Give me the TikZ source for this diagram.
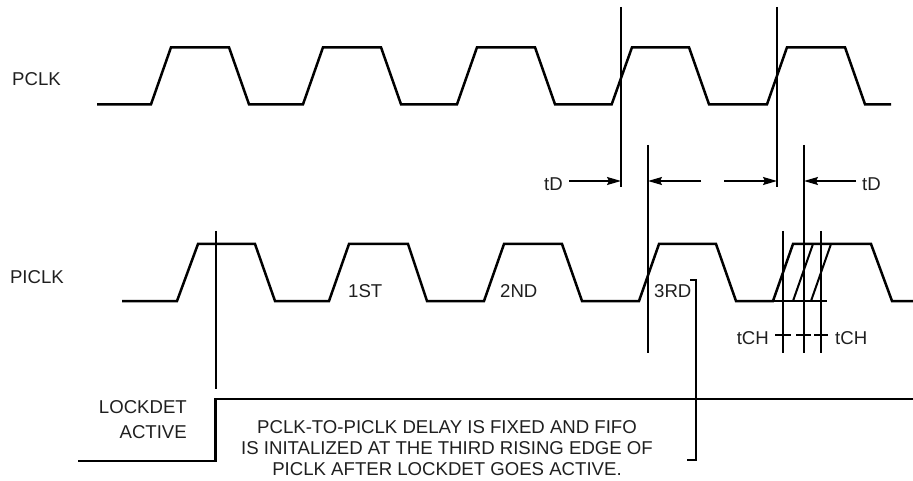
\documentclass[tikz,border=0pt]{standalone}
\usepackage{fontspec}
\setmainfont{Liberation Sans}
\usetikzlibrary{arrows.meta}
\tikzset{
  wave/.style={line width=2.5pt,line join=miter},
  slant/.style={line width=2pt},
  marker/.style={line width=1.6pt},
  dim/.style={line width=1.6pt,-{Stealth[length=14pt,width=8pt,inset=2pt]}},
  tick/.style={line width=1.6pt},
  lbl/.style={inner sep=0pt,font=\fontsize{18.6}{22}\selectfont,text=black!88},
  note/.style={lbl,align=center}
}
\begin{document}
\begin{tikzpicture}[x=1pt,y=-1pt]
\useasboundingbox (0,0) rectangle (913,481);
% PCLK
\draw[wave] (97,104.3) -- (151,104.3) -- (171,47.3) -- (229,47.3) -- (249,104.3) -- (303,104.3) -- (323,47.3) -- (381,47.3) -- (401,104.3) -- (457,104.3) -- (477,47.3) -- (535,47.3) -- (555,104.3) -- (611.7,104.3) -- (632,47.3) -- (689,47.3) -- (709,104.3) -- (767,104.3) -- (787,47.3) -- (845,47.3) -- (865,104.3) -- (891,104.3);
% PICLK
\draw[wave] (122,301) -- (177,301) -- (198,244) -- (255,244) -- (275,301) -- (329,301) -- (349,244) -- (408,244) -- (427,301) -- (484,301) -- (504,244) -- (562,244) -- (582,301) -- (639,301) -- (659,244) -- (716,244) -- (736,301) -- (773,301) -- (793,244) -- (871,244) -- (892,301) -- (913,301);
\draw[wave] (773,301) -- (827,301);
\draw[slant] (793,301) -- (813,244);
\draw[slant] (811,301) -- (831,244);
% LOCKDET
\draw[wave] (78,461) -- (215.5,461) -- (215.5,399) -- (913,399);
% markers
\draw[marker] (621,7) -- (621,187);
\draw[marker] (777,7) -- (777,187);
\draw[marker] (648,145) -- (648,353);
\draw[marker] (804,145) -- (804,353);
\draw[marker] (783,231) -- (783,353);
\draw[marker] (821,231) -- (821,353);
\draw[marker] (215.7,231) -- (215.7,389);
\draw[marker] (690,280) -- (696,280) -- (696,460) -- (687,460);
% delay arrows
\draw[dim] (569,181) -- (621,181);
\draw[dim] (701,181) -- (648,181);
\draw[dim] (724,181) -- (777,181);
\draw[dim] (856,181) -- (804,181);
% ticks
\draw[tick] (775,335) -- (791,335);
\draw[tick] (796,335) -- (811,335);
\draw[tick] (814,335) -- (828,335);
% labels
\node[lbl,anchor=east] (pclk) at (61,79) {PCLK};
\node[lbl,anchor=east] (piclk) at (64,277) {PICLK};
\node[lbl,anchor=west] (first) at (348,291) {1ST};
\node[lbl,anchor=west] (second) at (500,291) {2ND};
\node[lbl,anchor=west] (third) at (654,291) {3RD};
\node[lbl,anchor=east] (tda) at (563,184) {tD};
\node[lbl,anchor=west] (tdb) at (862,184) {tD};
\node[lbl,anchor=east] (tcha) at (769,338) {tCH};
\node[lbl,anchor=west] (tchb) at (835,338) {tCH};
\node[lbl,anchor=east] (lock) at (187,407) {LOCKDET};
\node[lbl,anchor=east] (act) at (187,432) {ACTIVE};
\node[note] (n1) at (447,427) {PCLK-TO-PICLK DELAY IS FIXED AND FIFO};
\node[note] (n2) at (447,448) {IS INITALIZED AT THE THIRD RISING EDGE OF};
\node[note] (n3) at (447,469) {PICLK AFTER LOCKDET GOES ACTIVE.};
\end{tikzpicture}
\end{document}
